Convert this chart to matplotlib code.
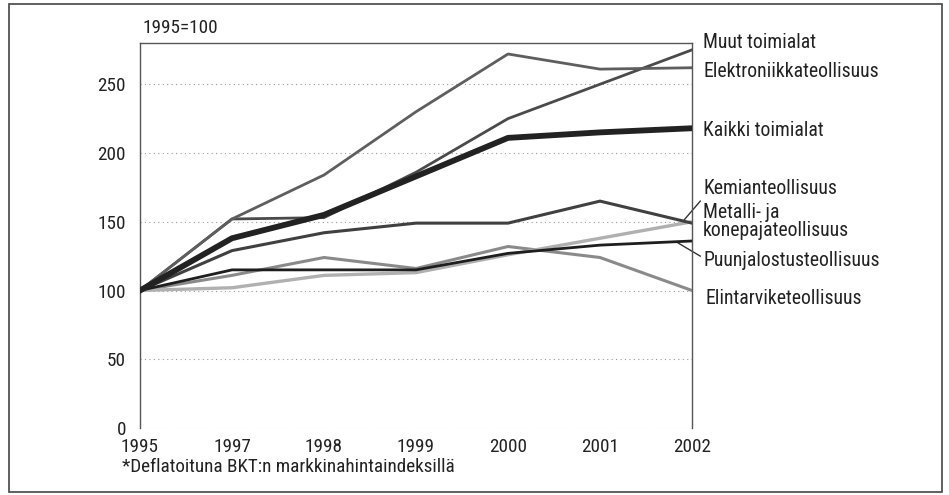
import matplotlib
matplotlib.use("Agg")
import matplotlib.pyplot as plt
from matplotlib import font_manager as fm
from matplotlib.patches import Rectangle

names = {f.name for f in fm.fontManager.ttflist}
fam = "DejaVu Sans"
for cand in ["Liberation Sans Narrow", "Roboto Condensed", "Open Sans Condensed", "DejaVu Sans Condensed", "Roboto"]:
    if cand in names:
        fam = cand
        break
plt.rcParams['font.family'] = [fam, 'DejaVu Sans']
FS = 13.8

years = ["1995", "1997", "1998", "1999", "2000", "2001", "2002"]
muut = [100, 152, 153, 186, 225, 250, 275]
elektroniikka = [100, 152, 184, 230, 272, 261, 262]
kaikki = [100, 138, 155, 183, 211, 215, 218]
kemian = [100, 129, 142, 149, 149, 165, 149]
metalli = [100, 102, 111, 113, 126, 138, 150]
puunjalostus = [100, 115, 115, 115, 127, 133, 136]
elintarvike = [100, 111, 124, 116, 132, 124, 100]
yticks = [0, 50, 100, 150, 200, 250]

fig = plt.figure(figsize=(9.49, 4.95), dpi=100)
ax = fig.add_axes([140/949, 67/495, 552/949, 385/495])
x = list(range(len(years)))

ax.plot(x, elintarvike, color="#8a8a8a", lw=2.2, zorder=3)
ax.plot(x, metalli, color="#b0b0b0", lw=2.4, zorder=3)
ax.plot(x, puunjalostus, color="#1e1e1e", lw=2.0, zorder=4)
ax.plot(x, kemian, color="#404040", lw=2.2, zorder=3)
ax.plot(x, muut, color="#4a4a4a", lw=2.0, zorder=3)
ax.plot(x, elektroniikka, color="#5e5e5e", lw=2.0, zorder=3)
ax.plot(x, kaikki, color="#222222", lw=4.2, zorder=5)

ax.set_xlim(0, 6)
ax.set_ylim(0, 280)
ax.set_xticks(x)
ax.set_xticklabels(years)
ax.set_yticks(yticks)
ax.tick_params(axis="x", length=0, labelsize=FS, colors="#222222", pad=7)
ax.tick_params(axis="y", length=0, labelsize=FS, colors="#222222", pad=10)
for yv in yticks:
    ax.axhline(yv, color="#999999", lw=0.8, ls=(0, (1, 3)), zorder=1)
for s in ["left", "right", "top"]:
    ax.spines[s].set_color("#555555")
    ax.spines[s].set_linewidth(1.0)
ax.spines["bottom"].set_visible(False)

fig.text(143/949, 1-28/495, "1995=100", fontsize=FS, color="#222222", va="center", ha="left")
fig.text(122/949, 1-467/495, "*Deflatoituna BKT:n markkinahintaindeksillä", fontsize=FS,
         color="#222222", va="center", ha="left")

tr = ax.get_yaxis_transform()
lx = 1.02
labels = [("Muut toimialat", 280), ("Elektroniikkateollisuus", 259.5),
          ("Kaikki toimialat", 216.5), ("Kemianteollisuus", 174),
          ("Metalli- ja\nkonepajateollisuus", 150), ("Puunjalostusteollisuus", 121.5),
          ("Elintarviketeollisuus", 94)]
for txt, yv in labels:
    ax.text(lx if not txt.startswith("Elin") else 1.025, yv, txt, transform=tr, fontsize=FS + 0.4,
            color="#222222", va="center", ha="left", linespacing=0.9, clip_on=False)

ax.plot([1.015, 0.985], [165, 151], transform=tr, color="#333333", lw=1.0, clip_on=False)
ax.plot([1.015, 0.975], [125, 134.5], transform=tr, color="#333333", lw=1.0, clip_on=False)

fig.patches.append(Rectangle((9/949, 1-492/495), 933/949, 488/495, transform=fig.transFigure,
                             fill=False, edgecolor="#444444", lw=1.2))

fig.savefig("out.png", dpi=100)
